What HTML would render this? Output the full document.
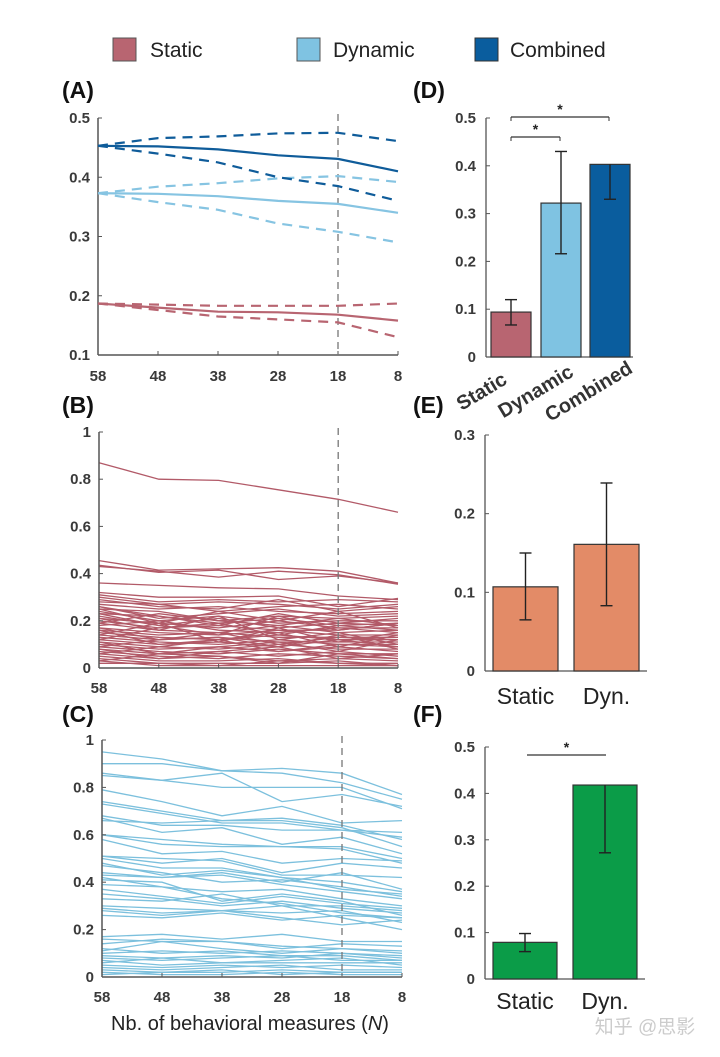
<!DOCTYPE html>
<html><head><meta charset="utf-8"><style>
html,body{margin:0;padding:0;background:#fff;}
svg{display:block;font-family:"Liberation Sans",Arial,sans-serif;}
.tk{font-size:15px;font-weight:bold;fill:#3a3a3a;}
.pl{font-size:23px;font-weight:bold;fill:#111;}
</style></head><body>
<svg id="fig" width="720" height="1057" viewBox="0 0 720 1057">
<g>
 <rect x="113" y="38" width="23" height="23" fill="#b86571" stroke="#555"/>
 <text x="150" y="57" font-size="21" fill="#222">Static</text>
 <rect x="297" y="38" width="23" height="23" fill="#7fc3e2" stroke="#555"/>
 <text x="333" y="57" font-size="21" fill="#222">Dynamic</text>
 <rect x="475" y="38" width="23" height="23" fill="#0a5d9e" stroke="#333"/>
 <text x="510" y="57" font-size="21" fill="#222">Combined</text>
</g>
<text class="pl" x="62" y="98">(A)</text>
<text class="pl" x="62" y="413">(B)</text>
<text class="pl" x="62" y="722">(C)</text>
<text class="pl" x="413" y="98">(D)</text>
<text class="pl" x="413" y="413">(E)</text>
<text class="pl" x="413" y="722">(F)</text>
<text x="250" y="1030" font-size="20" fill="#222" text-anchor="middle">Nb. of behavioral measures (<tspan font-style="italic">N</tspan>)</text>
<text x="645" y="1033" font-size="19" fill="#ccc" text-anchor="middle">知乎 @思影</text>
</svg>
<script>
const NS="http://www.w3.org/2000/svg";
const svg=document.getElementById('fig');
function mk(tag,attrs,parent){const e=document.createElementNS(NS,tag);for(const k in attrs)e.setAttribute(k,attrs[k]);(parent||svg).appendChild(e);return e;}

// ---------- data ----------
const nValues=[58,48,38,28,18,8];
const xTickLabels=["58","48","38","28","18","8"];
const cutoffN=18;
// Panel A
const combinedMean=[0.453,0.452,0.447,0.437,0.431,0.410];
const combinedUpper=[0.453,0.466,0.469,0.474,0.475,0.461];
const combinedLower=[0.453,0.440,0.425,0.400,0.385,0.360];
const dynamicMean=[0.373,0.372,0.368,0.360,0.355,0.340];
const dynamicUpper=[0.373,0.384,0.390,0.398,0.402,0.392];
const dynamicLower=[0.373,0.358,0.345,0.322,0.308,0.290];
const staticMean=[0.187,0.180,0.173,0.172,0.168,0.158];
const staticUpper=[0.187,0.185,0.183,0.183,0.183,0.187];
const staticLower=[0.187,0.176,0.165,0.160,0.155,0.130];
const aTicks=[0.1,0.2,0.3,0.4,0.5];
// Panel B (static, individual behaviors)
const staticLines=[
[0.87,0.80,0.795,0.755,0.715,0.66],
[0.455,0.415,0.42,0.425,0.41,0.36],
[0.43,0.41,0.385,0.41,0.395,0.355],
[0.435,0.405,0.415,0.375,0.39,0.36],
[0.36,0.35,0.34,0.335,0.305,0.29],
[0.32,0.30,0.30,0.305,0.26,0.295],[0.31,0.28,0.29,0.28,0.29,0.28],[0.30,0.27,0.28,0.27,0.25,0.27],
[0.29,0.26,0.25,0.29,0.24,0.26],[0.28,0.27,0.24,0.26,0.27,0.25],[0.27,0.25,0.26,0.24,0.23,0.24],
[0.26,0.21,0.23,0.25,0.22,0.23],[0.25,0.24,0.20,0.22,0.21,0.22],[0.24,0.20,0.22,0.19,0.20,0.20],
[0.23,0.22,0.19,0.21,0.18,0.19],[0.22,0.18,0.21,0.17,0.19,0.18],[0.21,0.19,0.17,0.20,0.17,0.17],
[0.20,0.17,0.18,0.16,0.16,0.19],[0.19,0.16,0.15,0.18,0.15,0.16],[0.18,0.20,0.16,0.15,0.17,0.15],
[0.17,0.15,0.14,0.16,0.14,0.14],[0.16,0.14,0.15,0.13,0.13,0.13],[0.15,0.13,0.12,0.14,0.12,0.12],
[0.14,0.12,0.13,0.11,0.11,0.11],[0.13,0.11,0.10,0.12,0.10,0.10],[0.12,0.10,0.11,0.09,0.12,0.09],
[0.11,0.09,0.08,0.10,0.08,0.08],[0.10,0.08,0.09,0.07,0.09,0.07],[0.09,0.07,0.06,0.08,0.06,0.06],
[0.08,0.06,0.07,0.05,0.07,0.05],[0.07,0.05,0.04,0.06,0.05,0.04],[0.06,0.04,0.05,0.03,0.04,0.03],
[0.05,0.03,0.03,0.04,0.02,0.02],[0.04,0.02,0.02,0.02,0.03,0.01],[0.03,0.01,0.01,0.01,0.01,0.01],
[0.02,0.02,0.01,0.03,0.02,0.01],[0.23,0.18,0.14,0.22,0.16,0.19],[0.12,0.17,0.19,0.14,0.18,0.16],
[0.19,0.23,0.20,0.18,0.21,0.18],[0.09,0.12,0.15,0.10,0.13,0.12],[0.16,0.10,0.12,0.15,0.09,0.14],
[0.26,0.22,0.18,0.23,0.19,0.21],[0.21,0.16,0.22,0.12,0.15,0.10],[0.14,0.19,0.11,0.17,0.11,0.15],
[0.06,0.09,0.12,0.07,0.10,0.09],[0.11,0.06,0.09,0.11,0.07,0.12],[0.03,0.06,0.05,0.02,0.06,0.04],
[0.17,0.12,0.13,0.09,0.14,0.08],[0.25,0.19,0.24,0.20,0.24,0.17],[0.08,0.04,0.07,0.09,0.04,0.06]
];
const bTicks=[0,0.2,0.4,0.6,0.8,1];
// Panel C (dynamic, individual behaviors)
const dynamicLines=[
[0.95,0.92,0.87,0.88,0.86,0.77],[0.90,0.90,0.87,0.86,0.82,0.75],[0.86,0.83,0.86,0.74,0.77,0.72],
[0.85,0.83,0.80,0.80,0.80,0.71],[0.79,0.74,0.68,0.72,0.65,0.66],[0.74,0.70,0.66,0.66,0.63,0.55],
[0.73,0.69,0.65,0.65,0.62,0.59],[0.68,0.64,0.64,0.62,0.62,0.61],[0.67,0.61,0.63,0.56,0.59,0.52],
[0.66,0.65,0.66,0.67,0.64,0.58],[0.60,0.58,0.56,0.55,0.55,0.50],[0.60,0.56,0.55,0.55,0.54,0.48],
[0.58,0.52,0.53,0.48,0.50,0.49],[0.51,0.50,0.49,0.43,0.43,0.42],[0.51,0.48,0.50,0.44,0.48,0.46],
[0.50,0.46,0.46,0.42,0.40,0.36],[0.48,0.43,0.45,0.42,0.37,0.35],[0.47,0.44,0.40,0.41,0.38,0.34],
[0.44,0.42,0.43,0.39,0.36,0.33],[0.43,0.42,0.44,0.40,0.44,0.37],[0.42,0.38,0.36,0.37,0.33,0.30],
[0.41,0.40,0.32,0.35,0.32,0.26],[0.39,0.38,0.33,0.31,0.27,0.25],[0.37,0.34,0.31,0.34,0.31,0.29],
[0.35,0.33,0.30,0.32,0.29,0.27],[0.33,0.32,0.35,0.30,0.25,0.20],[0.30,0.29,0.28,0.30,0.30,0.28],
[0.29,0.27,0.28,0.25,0.22,0.24],[0.28,0.26,0.28,0.27,0.28,0.23],[0.26,0.25,0.27,0.24,0.26,0.25],
[0.17,0.18,0.16,0.18,0.15,0.15],[0.16,0.15,0.15,0.12,0.14,0.13],[0.14,0.16,0.15,0.13,0.12,0.11],
[0.11,0.15,0.12,0.10,0.12,0.10],[0.10,0.11,0.10,0.11,0.10,0.09],[0.09,0.08,0.09,0.08,0.10,0.08],
[0.08,0.07,0.08,0.09,0.07,0.07],[0.07,0.05,0.06,0.06,0.06,0.06],[0.05,0.04,0.05,0.04,0.05,0.04],
[0.04,0.03,0.04,0.05,0.03,0.03],[0.03,0.02,0.02,0.03,0.02,0.02],[0.02,0.01,0.01,0.02,0.01,0.01],
[0.01,0.02,0.03,0.01,0.02,0.02],[0.06,0.08,0.06,0.07,0.08,0.05],[0.12,0.10,0.11,0.09,0.09,0.07]
];
// Panel D
const dCategories=["Static","Dynamic","Combined"];
const dValues=[0.094,0.322,0.403];
const dErrLow=[0.067,0.216,0.330];
const dErrHigh=[0.120,0.430,0.403];
const dTicks=[0,0.1,0.2,0.3,0.4,0.5];
// Panel E
const eCategories=["Static","Dyn."];
const eValues=[0.107,0.161];
const eErrLow=[0.065,0.083];
const eErrHigh=[0.150,0.239];
const eTicks=[0,0.1,0.2,0.3];
// Panel F
const fCategories=["Static","Dyn."];
const fValues=[0.079,0.418];
const fErrLow=[0.059,0.272];
const fErrHigh=[0.098,0.418];
const fTicks=[0,0.1,0.2,0.3,0.4,0.5];

// ---------- helpers ----------
function linScale(d0,d1,r0,r1){return v=>r0+(v-d0)/(d1-d0)*(r1-r0);}
function lineAxes(g,x,y,x0,x1,y0,y1,ticks,fmt,xlabY){
  mk('line',{x1:x0,y1:y0,x2:x0,y2:y1,stroke:'#555','stroke-width':1.5},g);
  mk('line',{x1:x0,y1:y0,x2:x1,y2:y0,stroke:'#555','stroke-width':1.5},g);
  ticks.forEach(t=>{
    mk('line',{x1:x0,y1:y(t),x2:x0+4,y2:y(t),stroke:'#555'},g);
    const tx=mk('text',{x:x0-8,y:y(t)+5,'text-anchor':'end',class:'tk'},g);tx.textContent=fmt(t);
    
    
  });
  nValues.forEach((n,i)=>{
    mk('line',{x1:x(n),y1:y0,x2:x(n),y2:y0-4,stroke:'#555'},g);
    const tx=mk('text',{x:x(n),y:xlabY,'text-anchor':'middle',class:'tk'},g);tx.textContent=xTickLabels[i];
    
    
  });
  const c=mk('line',{x1:x(cutoffN),y1:y1-4,x2:x(cutoffN),y2:y0,stroke:'#777','stroke-width':1.3,'stroke-dasharray':'7,5'},g);
  
  
}
function pathOf(x,y,vals){return vals.map((v,i)=>(i?'L':'M')+x(nValues[i]).toFixed(1)+','+y(v).toFixed(1)).join(' ');}
const fmt1=t=>t===0?'0':(t===1?'1':t.toFixed(1));

// ---------- Panel A ----------
(function(){
  const g=mk('g',{});
  
  
  const x=linScale(58,8,98,398), y=linScale(0.1,0.5,355,118);
  lineAxes(g,x,y,98,398,355,118,aTicks,fmt1,381);
  const sets=[[staticMean,staticUpper,staticLower,'#b86571','static'],[dynamicMean,dynamicUpper,dynamicLower,'#86c4e2','dynamic'],[combinedMean,combinedUpper,combinedLower,'#0f5c9a','combined']];
  sets.forEach(s=>{
    const m=mk('path',{d:pathOf(x,y,s[0]),fill:'none',stroke:s[3],'stroke-width':2.2},g);
    
    
    const u=mk('path',{d:pathOf(x,y,s[1]),fill:'none',stroke:s[3],'stroke-width':2.2,'stroke-dasharray':'10,7'},g);
    
    
    const l=mk('path',{d:pathOf(x,y,s[2]),fill:'none',stroke:s[3],'stroke-width':2.2,'stroke-dasharray':'10,7'},g);
    
    
  });
})();
// ---------- Panel B ----------
(function(){
  const g=mk('g',{});
  
  
  const x=linScale(58,8,99,398), y=linScale(0,1,668,432);
  staticLines.forEach(v=>{
    const p=mk('path',{d:pathOf(x,y,v),fill:'none',stroke:'#b25a68','stroke-width':1.3},g);
    
    
  });
  lineAxes(g,x,y,99,398,668,432,bTicks,fmt1,693);
})();
// ---------- Panel C ----------
(function(){
  const g=mk('g',{});
  
  
  const x=linScale(58,8,102,402), y=linScale(0,1,977,740);
  dynamicLines.forEach(v=>{
    const p=mk('path',{d:pathOf(x,y,v),fill:'none',stroke:'#7cc0dd','stroke-width':1.3},g);
    
    
  });
  lineAxes(g,x,y,102,402,977,740,bTicks,fmt1,1002);
})();
// ---------- bar panels ----------
function barPanel(name,ax0,ax1,y0,yTop,maxV,ticks,cats,vals,lo,hi,barX,barW,colors,catY,rot,sigs){
  const g=mk('g',{});
  
  
  const y=linScale(0,maxV,y0,yTop);
  mk('line',{x1:ax0,y1:y0,x2:ax0,y2:yTop,stroke:'#555','stroke-width':1.3},g);
  mk('line',{x1:ax0,y1:y0,x2:ax1,y2:y0,stroke:'#555','stroke-width':1.3},g);
  ticks.forEach(t=>{
    mk('line',{x1:ax0,y1:y(t),x2:ax0+4,y2:y(t),stroke:'#555'},g);
    const tx=mk('text',{x:ax0-10,y:y(t)+5,'text-anchor':'end',class:'tk'},g);tx.textContent=fmt1(t);
    
    
  });
  vals.forEach((v,i)=>{
    const r=mk('rect',{x:barX[i],y:y(v),width:barW,height:y0-y(v),fill:colors[i],stroke:'#333','stroke-width':1.2},g);
    
    
    const cx=barX[i]+barW/2;
    mk('line',{x1:cx,y1:y(lo[i]),x2:cx,y2:y(hi[i]),stroke:'#222','stroke-width':1.4},g);
    mk('line',{x1:cx-6,y1:y(lo[i]),x2:cx+6,y2:y(lo[i]),stroke:'#222','stroke-width':1.4},g);
    if(hi[i]>v+0.001) mk('line',{x1:cx-6,y1:y(hi[i]),x2:cx+6,y2:y(hi[i]),stroke:'#222','stroke-width':1.4},g);
    let tx;
    if(rot){const lx=cx-26+i*4;tx=mk('text',{x:lx,y:catY,'text-anchor':'middle','font-size':20,'font-weight':'bold',fill:'#333',transform:'rotate(-31 '+lx+' '+catY+')'},g);}
    else{tx=mk('text',{x:cx,y:catY,'text-anchor':'middle','font-size':23,fill:'#222'},g);}
    tx.textContent=cats[i];
    
    
  });
  sigs.forEach(s=>{
    const l=mk('line',{x1:s[0],y1:s[2],x2:s[1],y2:s[2],stroke:'#333','stroke-width':1.2},g);
    
    
    if(s[3]){mk('line',{x1:s[0],y1:s[2],x2:s[0],y2:s[2]+4,stroke:'#333'},g);mk('line',{x1:s[1],y1:s[2],x2:s[1],y2:s[2]+4,stroke:'#333'},g);}
    const st=mk('text',{x:(s[0]+s[1])/2,y:s[2]-3,'text-anchor':'middle','font-size':14,'font-weight':'bold',fill:'#222'},g);st.textContent='*';
    
    
  });
}
barPanel('panel-d-chart',486,633,357,118,0.5,dTicks,dCategories,dValues,dErrLow,dErrHigh,[491,541,590],40,['#b86571','#7fc3e2','#0a5d9e'],397,true,[[511,609,117,true],[511,560,137,true]]);
barPanel('panel-e-chart',485,647,671,435,0.3,eTicks,eCategories,eValues,eErrLow,eErrHigh,[493,574],65,['#e38b67','#e38b67'],704,false,[]);
barPanel('panel-f-chart',485,645,979,747,0.5,fTicks,fCategories,fValues,fErrLow,fErrHigh,[493,573],64,['#0b9c48','#0b9c48'],1009,false,[[527,606,755,false]]);
</script>
</body></html>
